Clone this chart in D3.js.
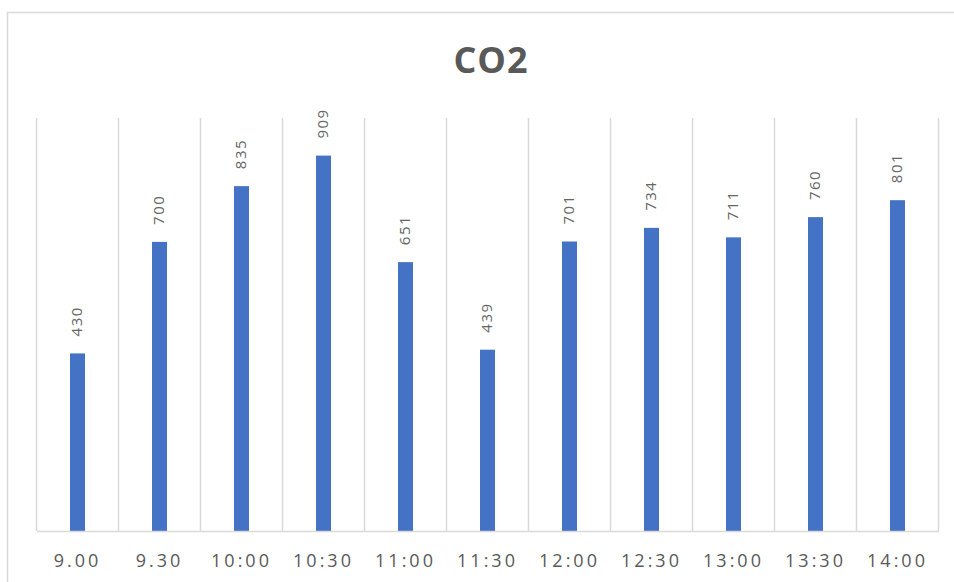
<!DOCTYPE html>
<html>
<head>
<meta charset="utf-8">
<script src="https://cdn.jsdelivr.net/npm/d3@7"></script>
<style>
  html, body { margin: 0; padding: 0; background: #fff; }
  svg { display: block; }
</style>
</head>
<body>
<svg id="chart" width="954" height="582"></svg>
<script>
const categories = ["9.00", "9.30", "10:00", "10:30", "11:00", "11:30", "12:00", "12:30", "13:00", "13:30", "14:00"];
const values = [430, 700, 835, 909, 651, 439, 701, 734, 711, 760, 801];
const title = "CO2";
const yDomain = [0, 1000];

const svg = d3.select("#chart");
const W = 954, H = 582;
const plot = { left: 36.5, right: 938.5, top: 118, bottom: 531 };

// outer chart border
svg.append("path")
  .attr("d", `M7.5,${H + 2} V12.5 H${W + 2}`)
  .attr("fill", "none")
  .attr("stroke", "#d9d9d9")
  .attr("stroke-width", 1.5);

const x = d3.scaleBand().domain(categories).range([plot.left, plot.right]).paddingInner(0).paddingOuter(0);
const y = d3.scaleLinear().domain(yDomain).range([plot.bottom, plot.top]);

// vertical gridlines at band boundaries
const bounds = categories.map(c => x(c)).concat([x(categories[categories.length - 1]) + x.bandwidth()]);
svg.append("g").selectAll("line").data(bounds).join("line")
  .attr("x1", d => d).attr("x2", d => d)
  .attr("y1", plot.top).attr("y2", plot.bottom)
  .attr("stroke", "#d9d9d9").attr("stroke-width", 1.5);

// bars
const barW = 15;
svg.append("g").selectAll("rect").data(values).join("rect")
  .attr("x", (d, i) => x(categories[i]) + x.bandwidth() / 2 - barW / 2)
  .attr("y", d => y(d))
  .attr("width", barW)
  .attr("height", d => y(0) - y(d))
  .attr("fill", "#4472C4");

// baseline axis
const xAxis = d3.axisBottom(x).tickSize(0).tickPadding(0);
const gx = svg.append("g").attr("transform", `translate(0,${plot.bottom})`).call(xAxis);
gx.select(".domain").attr("stroke", "#d9d9d9").attr("stroke-width", 1.5);
gx.selectAll(".tick text")
  .attr("y", 36)
  .attr("dy", 0)
  .attr("font-family", "'Open Sans', sans-serif")
  .attr("font-size", 18)
  .attr("letter-spacing", "3px")
  .attr("fill", "#595959");

// value labels (rotated)
svg.append("g").selectAll("text").data(values).join("text")
  .attr("transform", (d, i) => `translate(${x(categories[i]) + x.bandwidth() / 2 + 4.5},${y(d) - 17}) rotate(-90)`)
  .attr("text-anchor", "start")
  .attr("font-family", "'Open Sans', sans-serif")
  .attr("font-size", 15)
  .attr("letter-spacing", "1.5px")
  .attr("fill", "#666666")
  .text(d => d);

// title
svg.append("text")
  .attr("x", 491)
  .attr("y", 73)
  .attr("text-anchor", "middle")
  .attr("font-family", "'Open Sans', sans-serif")
  .attr("font-weight", "bold")
  .attr("font-size", 36)
  .attr("letter-spacing", "1px")
  .attr("fill", "#595959")
  .text(title);
</script>
</body>
</html>
